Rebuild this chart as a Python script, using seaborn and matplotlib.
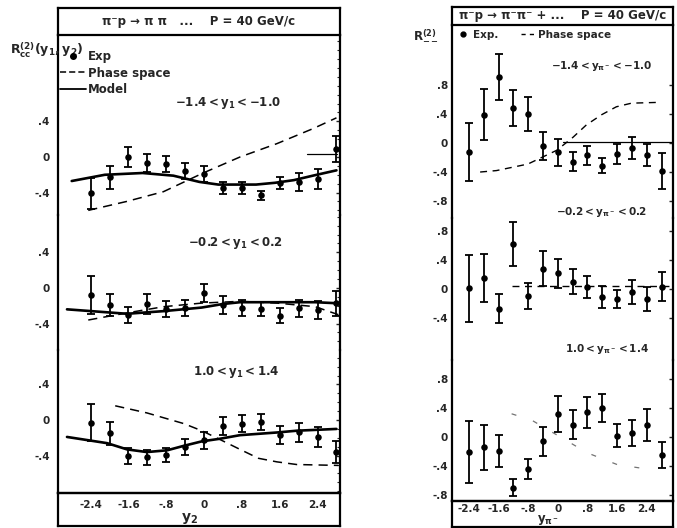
import matplotlib
matplotlib.use("Agg")
import matplotlib.pyplot as plt
import matplotlib.ticker as mticker
from matplotlib.lines import Line2D
import seaborn as sns

sns.set_style("white")
plt.rcParams['font.family'] = ['DejaVu Sans']
plt.rcParams['font.weight'] = 'bold'
plt.rcParams['mathtext.default'] = 'bf'

# rapidity bins of the second particle (same for every sub-plot)
y_bins = [-2.4, -2.0, -1.6, -1.2, -0.8, -0.4, 0.0, 0.4, 0.8, 1.2, 1.6, 2.0, 2.4, 2.8]

# ---- left panel: R_cc(y1, y2) ----
cc_labels = ["$-1.4 < y_1 < -1.0$", "$-0.2 < y_1 < 0.2$", "$1.0 < y_1 < 1.4$"]
cc_exp = [
    [-0.41, -0.23, 0.0, -0.07, -0.08, -0.16, -0.19, -0.35, -0.35, -0.43, -0.29, -0.28, -0.25, 0.09],
    [-0.08, -0.19, -0.30, -0.18, -0.24, -0.23, -0.06, -0.19, -0.23, -0.24, -0.31, -0.23, -0.25, -0.17],
    [-0.03, -0.15, -0.40, -0.42, -0.39, -0.30, -0.23, -0.07, -0.04, -0.02, -0.17, -0.14, -0.19, -0.36],
]
cc_err = [
    [0.17, 0.13, 0.11, 0.10, 0.09, 0.09, 0.09, 0.07, 0.07, 0.05, 0.07, 0.10, 0.11, 0.15],
    [0.21, 0.12, 0.09, 0.11, 0.09, 0.09, 0.10, 0.10, 0.09, 0.08, 0.08, 0.10, 0.10, 0.14],
    [0.21, 0.13, 0.09, 0.08, 0.08, 0.09, 0.09, 0.10, 0.10, 0.09, 0.10, 0.11, 0.11, 0.12],
]
cc_model_x = [
    [-2.8, -2.1, -1.3, -0.65, -0.1, 0.3, 1.1, 1.5, 1.9, 2.3, 2.8],
    [-2.9, -1.63, -0.85, -0.05, 0.4, 0.76, 1.54, 2.35, 2.75],
    [-2.9, -2.05, -1.63, -1.21, -0.78, -0.43, -0.05, 0.34, 0.76, 1.54, 1.96, 2.8],
]
cc_model_y = [
    [-0.27, -0.20, -0.18, -0.21, -0.28, -0.31, -0.31, -0.29, -0.26, -0.21, -0.15],
    [-0.24, -0.29, -0.26, -0.22, -0.18, -0.16, -0.16, -0.16, -0.17],
    [-0.19, -0.26, -0.33, -0.36, -0.34, -0.29, -0.24, -0.21, -0.17, -0.14, -0.12, -0.10],
]
cc_phase_x = [
    [-2.45, -1.64, -0.86, -0.02, 0.76, 1.54, 2.31, 2.8],
    [-2.45, -1.63, -0.85, -0.05, 0.76, 1.54, 2.35, 2.84],
    [-1.88, -1.21, -0.43, -0.05, 0.34, 0.76, 1.15, 1.54, 1.96, 2.84],
]
cc_phase_y = [
    [-0.60, -0.50, -0.39, -0.18, 0.0, 0.15, 0.32, 0.44],
    [-0.36, -0.28, -0.21, -0.17, -0.15, -0.17, -0.21, -0.30],
    [0.16, 0.08, -0.04, -0.12, -0.22, -0.33, -0.43, -0.47, -0.50, -0.51],
]

# ---- right panel: R_--(y_pi-) ----
mm_labels = ["$-1.4 < y_{\\pi^-} < -1.0$", "$-0.2 < y_{\\pi^-} < 0.2$", "$1.0 < y_{\\pi^-} < 1.4$"]
mm_exp = [
    [-0.13, 0.39, 0.91, 0.48, 0.40, -0.04, -0.13, -0.26, -0.17, -0.31, -0.15, -0.07, -0.17, -0.39],
    [0.01, 0.15, -0.27, 0.62, -0.10, 0.28, 0.22, 0.10, 0.03, -0.11, -0.14, -0.04, -0.14, 0.03],
    [-0.21, -0.14, -0.19, -0.70, -0.44, -0.06, 0.32, 0.17, 0.34, 0.40, 0.02, 0.05, 0.16, -0.25],
]
mm_err = [
    [0.40, 0.35, 0.32, 0.25, 0.23, 0.19, 0.19, 0.13, 0.13, 0.11, 0.14, 0.15, 0.15, 0.25],
    [0.46, 0.33, 0.20, 0.30, 0.18, 0.24, 0.20, 0.17, 0.15, 0.15, 0.12, 0.17, 0.17, 0.20],
    [0.43, 0.31, 0.22, 0.12, 0.14, 0.20, 0.25, 0.20, 0.21, 0.19, 0.16, 0.18, 0.22, 0.18],
]
mm_phase_x = [
    [-2.1, -1.66, -0.81, -0.03, 0.41, 0.77, 1.18, 1.58, 1.99, 2.67],
    [-1.25, 3.1],
    [-1.25, -0.7, 0.0, 0.8, 1.6, 2.25],
]
mm_phase_y = [
    [-0.40, -0.38, -0.29, -0.10, 0.08, 0.25, 0.39, 0.50, 0.55, 0.56],
    [0.04, 0.04],
    [0.32, 0.23, 0.02, -0.22, -0.38, -0.43],
]

W, H = 677, 528
fig = plt.figure(figsize=(W / 100, H / 100), dpi=100)


def rect(x0, y0, x1, y1):
    return [x0 / W, 1 - y1 / H, (x1 - x0) / W, (y1 - y0) / H]


def tick_fmt(v, pos):
    if abs(v) < 1e-9:
        return "0"
    s = f"{v:.1f}"
    if abs(v) < 1:
        s = s.replace("0.", ".")
    return s


def frame_box(r, lw=1.6):
    a = fig.add_axes(r, facecolor='none')
    a.set_xticks([])
    a.set_yticks([])
    for sp in a.spines.values():
        sp.set_linewidth(lw)
        sp.set_color('black')
    return a


def panel(x0, x1, title_y, rows, frame_bottom, xlim, ylims, yticks, title, xpad):
    tb = frame_box(rect(x0, title_y[0], x1, title_y[1]))
    tb.text(0.5, 0.5, title, ha='center', va='center', fontsize=8.5, fontweight='bold',
            transform=tb.transAxes)
    frame_box(rect(x0, rows[-1][1], x1, frame_bottom))
    axes = []
    for i, (ya, yb) in enumerate(rows):
        ax = fig.add_axes(rect(x0, ya, x1, yb), facecolor='none')
        ax.set_xlim(*xlim)
        ax.set_ylim(*ylims[i])
        for sp in ax.spines.values():
            sp.set_linewidth(1.6)
            sp.set_color('black')
        ax.spines['top'].set_visible(False)
        if i < len(rows) - 1:
            ax.spines['bottom'].set_visible(False)
            ax.tick_params(axis='x', which='both', bottom=False, labelbottom=False)
        else:
            ax.xaxis.set_major_locator(mticker.MultipleLocator(0.8))
            ax.xaxis.set_minor_locator(mticker.MultipleLocator(0.4))
            ax.xaxis.set_major_formatter(mticker.FuncFormatter(tick_fmt))
            ax.tick_params(axis='x', which='both', direction='in', length=4, width=1,
                           labelsize=7.5, pad=xpad)
        ax.set_yticks(yticks[i])
        ax.yaxis.set_major_formatter(mticker.FuncFormatter(tick_fmt))
        ax.tick_params(axis='y', which='major', direction='in', length=3, width=1,
                       labelsize=7.5, pad=3, right=True)
        ax.set_xlabel("")
        ax.set_ylabel("")
        axes.append(ax)
    return axes


def draw_exp(ax, x, y, err):
    ax.errorbar(x, y, yerr=err, fmt='none', ecolor='black', elinewidth=1.3,
                capsize=2.8, capthick=1.3, zorder=3)
    sns.scatterplot(x=x, y=y, ax=ax, color='black', s=22, edgecolor='black',
                    linewidth=0, zorder=4, legend=False)


# ---------------- left panel ----------------
left_axes = panel(58, 340, (8, 35), [(35, 215), (215, 350), (350, 493)], 526,
                  (-3.09, 2.875),
                  [(-0.652, 1.371), (-0.697, 0.82), (-0.82, 0.787)],
                  [[-0.4, 0, 0.4]] * 3,
                  "π⁻p → π π   ...    P = 40 GeV/c", 5)
for i, ax in enumerate(left_axes):
    ax.yaxis.set_minor_locator(mticker.MultipleLocator(0.1))
    ax.tick_params(axis='y', which='minor', left=False, right=True, direction='in',
                   length=2.5, width=0.8)
    ax.tick_params(axis='y', which='major', pad=6)
    sns.lineplot(x=cc_phase_x[i], y=cc_phase_y[i], ax=ax, color='black', lw=1.1,
                 linestyle=(0, (6, 4)), sort=False)
    sns.lineplot(x=cc_model_x[i], y=cc_model_y[i], ax=ax, color='black', lw=1.9,
                 sort=False)
    draw_exp(ax, y_bins, cc_exp[i], cc_err[i])
left_axes[0].plot([2.18, 2.81], [0.03, 0.03], color='black', lw=0.9)

fig.text(10 / W, 1 - 50 / H, "$R^{(2)}_{cc}(y_1,y_2)$", fontsize=9, va='center')
fig.text(190 / W, 1 - 518 / H, "$y_2$", fontsize=10, ha='center', va='center')
for (cx, cy), lab in zip([(228, 103), (235, 243), (236, 372)], cc_labels):
    fig.text(cx / W, 1 - cy / H, lab, fontsize=8.5, ha='center', va='center')

left_handles = [
    Line2D([], [], marker='o', color='black', linestyle='none', markersize=4),
    Line2D([], [], color='black', lw=1.1, linestyle=(0, (4, 2))),
    Line2D([], [], color='black', lw=1.3),
]
fig.legend(left_handles, ["Exp", "Phase space", "Model"], loc='upper left',
           bbox_to_anchor=(60 / W, 1 - 50 / H), frameon=False, fontsize=8.5,
           handlelength=2.2, handletextpad=0.15, labelspacing=0.3, borderpad=0,
           borderaxespad=0)

# ---------------- right panel ----------------
right_axes = panel(452, 673, (7, 25), [(25, 218), (218, 360), (360, 501)], 527,
                   (-2.86, 3.11),
                   [(-1.034, 1.628), (-0.979, 0.979), (-0.883, 1.062)],
                   [[-0.8, -0.4, 0, 0.4, 0.8], [-0.4, 0, 0.4, 0.8], [-0.8, -0.4, 0, 0.4, 0.8]],
                   "π⁻p → π⁻π⁻ + ...    P = 40 GeV/c", 2.5)
for i, ax in enumerate(right_axes):
    faint = i == 2
    sns.lineplot(x=mm_phase_x[i], y=mm_phase_y[i], ax=ax,
                 color='0.45' if faint else 'black', lw=0.9 if faint else 1.0,
                 linestyle=(0, (4, 14)) if faint else (0, (5, 4)), sort=False)
    draw_exp(ax, y_bins, mm_exp[i], mm_err[i])
right_axes[0].plot([0.14, 3.11], [0.01, 0.01], color='black', lw=0.9)

fig.text(413 / W, 1 - 35 / H, "$R^{(2)}_{--}$", fontsize=8.5, va='center')
fig.text(548 / W, 1 - 520 / H, "$y_{\\pi^-}$", fontsize=8.5, ha='center', va='center')
for (cx, cy), lab in zip([(602, 66), (602, 212), (607, 349)], mm_labels):
    fig.text(cx / W, 1 - cy / H, lab, fontsize=7.5, ha='center', va='center')

right_handles = [
    Line2D([], [], marker='o', color='black', linestyle='none', markersize=3.5),
    Line2D([], [], color='black', lw=1.0, linestyle=(0, (3, 3))),
]
fig.legend(right_handles, ["Exp.", "Phase space"], loc='upper left', ncol=2,
           bbox_to_anchor=(456 / W, 1 - 30 / H), frameon=False, fontsize=7.5,
           handlelength=1.4, handletextpad=0.2, columnspacing=2.2, borderpad=0,
           borderaxespad=0)

fig.savefig("out.png", dpi=100)
